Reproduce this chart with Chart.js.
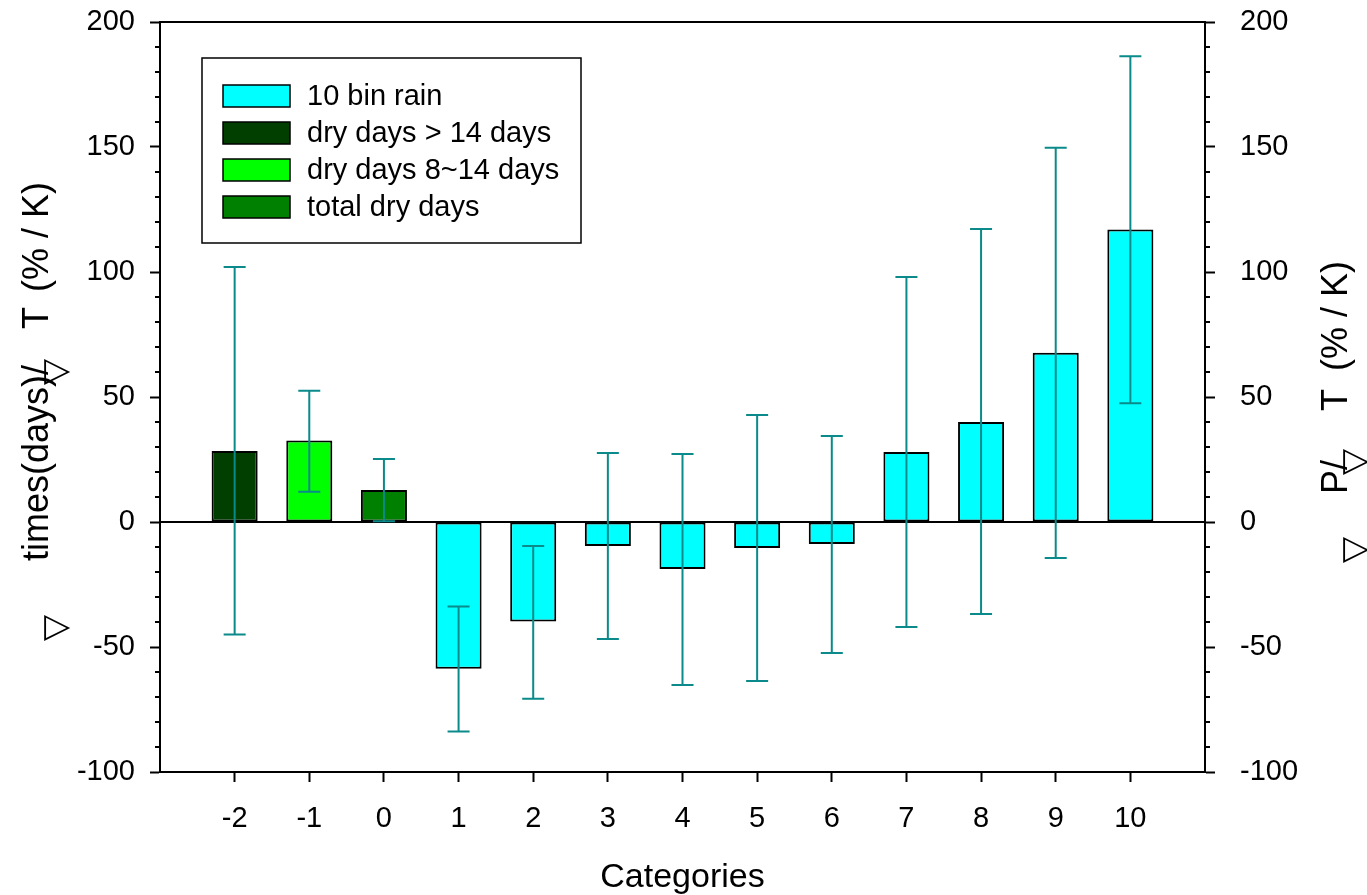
<!DOCTYPE html>
<html>
<head>
<meta charset="utf-8">
<script src="https://cdn.jsdelivr.net/npm/chart.js@4.4.1/dist/chart.umd.min.js"></script>
<style>
  html, body { margin: 0; padding: 0; background: #fff; }
</style>
</head>
<body>
<canvas id="chart" width="1367" height="895"></canvas>
<script>
// categories on the x axis (-3 and 11 are empty slots at the frame edges)
const categories = ['-2', '-1', '0', '1', '2', '3', '4', '5', '6', '7', '8', '9', '10'];
const values  = [28.4, 32.6, 12.8, -58.7, -39.8, -9.6, -18.8, -10.4, -8.8, 28.0, 40.0, 67.7, 117.0];
const errHigh = [102.0, 52.5, 25.2, -33.8, -9.6, 27.6, 27.2, 42.8, 34.4, 98.0, 117.2, 149.7, 186.3];
const errLow  = [-45.0, 12.1, 0.3, -83.8, -70.7, -46.8, -65.2, -63.6, -52.4, -42.0, -36.8, -14.4, 47.5];
const barColors = ['#003f00', '#00ff00', '#008000', '#00ffff', '#00ffff', '#00ffff', '#00ffff',
                   '#00ffff', '#00ffff', '#00ffff', '#00ffff', '#00ffff', '#00ffff'];

const legendLabels = ['10 bin rain', 'dry days > 14 days', 'dry days 8~14 days', 'total dry days'];
const legendColors = ['#00ffff', '#003f00', '#00ff00', '#008000'];

const FONT = '"Liberation Sans", Arial, sans-serif';
const ERR_COLOR = '#0a8a8a';

const labels = [''].concat(categories, ['']);
const data = [null].concat(values, [null]);

// error bars, zero line, frame, minor ticks, legend and titles
const decorations = {
  id: 'decorations',
  afterDatasetsDraw(chart) {
    const ctx = chart.ctx;
    const xs = chart.scales.x, ys = chart.scales.y;
    const area = chart.chartArea;
    ctx.save();

    // zero line
    ctx.strokeStyle = '#000';
    ctx.lineWidth = 2;
    ctx.beginPath();
    ctx.moveTo(area.left, ys.getPixelForValue(0));
    ctx.lineTo(area.right, ys.getPixelForValue(0));
    ctx.stroke();

    // error bars
    ctx.strokeStyle = ERR_COLOR;
    ctx.lineWidth = 2;
    categories.forEach((c, i) => {
      const x = xs.getPixelForValue(i + 1);
      const yh = ys.getPixelForValue(errHigh[i]);
      const yl = ys.getPixelForValue(errLow[i]);
      ctx.beginPath();
      ctx.moveTo(x, yh); ctx.lineTo(x, yl);
      ctx.moveTo(x - 11, yh); ctx.lineTo(x + 11, yh);
      ctx.moveTo(x - 11, yl); ctx.lineTo(x + 11, yl);
      ctx.stroke();
    });

    // top frame line
    ctx.strokeStyle = '#000';
    ctx.lineWidth = 2;
    ctx.beginPath();
    ctx.moveTo(area.left, area.top);
    ctx.lineTo(area.right, area.top);
    ctx.stroke();

    // minor ticks on both y axes
    ctx.beginPath();
    for (let v = -90; v < 200; v += 10) {
      if (v % 50 === 0) continue;
      const y = ys.getPixelForValue(v);
      ctx.moveTo(area.left - 5, y); ctx.lineTo(area.left, y);
      ctx.moveTo(area.right, y); ctx.lineTo(area.right + 5, y);
    }
    ctx.stroke();

    // legend box
    const lx = area.left + 42, ly = area.top + 36;
    ctx.fillStyle = '#fff';
    ctx.fillRect(lx, ly, 379, 185);
    ctx.lineWidth = 1.5;
    ctx.strokeRect(lx, ly, 379, 185);
    ctx.font = '29px ' + FONT;
    ctx.textBaseline = 'middle';
    ctx.textAlign = 'left';
    legendLabels.forEach((t, i) => {
      const cy = ly + 38 + i * 37;
      ctx.fillStyle = legendColors[i];
      ctx.fillRect(lx + 21, cy - 11, 67, 22);
      ctx.strokeStyle = '#000';
      ctx.strokeRect(lx + 21, cy - 11, 67, 22);
      ctx.fillStyle = '#000';
      ctx.fillText(t, lx + 105, cy + 1);
    });

    // axis titles
    ctx.fillStyle = '#000';
    ctx.textAlign = 'center';
    ctx.textBaseline = 'alphabetic';
    ctx.font = '34px ' + FONT;
    ctx.fillText('Categories', (area.left + area.right) / 2, 887);

    const rot = (text, x, y, font) => {
      ctx.save();
      ctx.translate(x, y);
      ctx.rotate(-Math.PI / 2);
      ctx.font = font;
      ctx.textAlign = 'center';
      ctx.textBaseline = 'middle';
      ctx.fillText(text, 0, 0);
      ctx.restore();
    };
    const tf = '36px ' + FONT;
    const sf = '34px "DejaVu Sans", sans-serif';
    rot('(% / K)', 38, 237, tf);
    rot('T', 38, 318, tf);
    rot('times(days)/', 38, 463, tf);
    rot('\u25BD', 57, 372, sf);
    rot('\u25BD', 57, 628, sf);

    rot('(% / K)', 1337, 316, tf);
    rot('T', 1337, 400, tf);
    rot('P/', 1337, 477, tf);
    rot('\u25BD', 1356, 462, sf);
    rot('\u25BD', 1356, 550, sf);

    ctx.restore();
  }
};

new Chart(document.getElementById('chart'), {
  type: 'bar',
  data: {
    labels: labels,
    datasets: [{
      label: 'values',
      data: data,
      backgroundColor: [null].concat(barColors, [null]),
      borderColor: '#000',
      borderWidth: 2,
      borderSkipped: false,
      barPercentage: 0.617,
      categoryPercentage: 1.0
    }]
  },
  options: {
    responsive: false,
    animation: false,
    devicePixelRatio: 1,
    layout: { padding: { top: 22, bottom: 0, left: 0, right: 0 } },
    plugins: {
      legend: { display: false },
      tooltip: { enabled: false }
    },
    scales: {
      x: {
        offset: false,
        grid: {
          offset: false,
          drawOnChartArea: false,
          tickLength: 10,
          tickWidth: 2,
          tickColor: (c) => (c.index === 0 || c.index === labels.length - 1) ? 'rgba(0,0,0,0)' : '#000'
        },
        border: { color: '#000', width: 2 },
        ticks: {
          color: '#000',
          font: { family: FONT, size: 29 },
          padding: 20,
          maxRotation: 0,
          autoSkip: false
        },
        afterFit(s) { s.height = 123; s.paddingLeft = 0; s.paddingRight = 0; }
      },
      y: {
        position: 'left',
        min: -100, max: 200,
        grid: { drawOnChartArea: false, tickLength: 10, tickWidth: 2, tickColor: '#000' },
        border: { color: '#000', width: 2 },
        ticks: {
          stepSize: 50,
          color: '#000',
          font: { family: FONT, size: 29 },
          padding: 15
        },
        afterFit(s) { s.width = 160; s.paddingTop = 0; s.paddingBottom = 0; }
      },
      y2: {
        position: 'right',
        min: -100, max: 200,
        grid: { drawOnChartArea: false, tickLength: 10, tickWidth: 2, tickColor: '#000' },
        border: { color: '#000', width: 2 },
        ticks: {
          stepSize: 50,
          color: '#000',
          font: { family: FONT, size: 29 },
          padding: 25
        },
        afterFit(s) { s.width = 162; s.paddingTop = 0; s.paddingBottom = 0; }
      }
    }
  },
  plugins: [decorations]
});
</script>
</body>
</html>
